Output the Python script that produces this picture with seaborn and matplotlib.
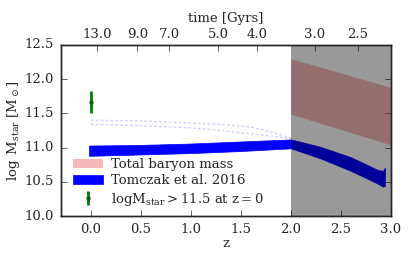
import numpy as np
import pandas as pd
import matplotlib
matplotlib.use("Agg")
import matplotlib.pyplot as plt
import seaborn as sns

# Tomczak et al. 2016 band (z, lower, upper)
tom_z = [-0.02, 0.5, 1.0, 1.5, 2.0, 2.3, 2.6, 2.86, 2.92, 2.94]
tom_lo = [10.88, 10.90, 10.92, 10.95, 10.99, 10.84, 10.66, 10.48, 10.43, 10.44]
tom_hi = [11.03, 11.04, 11.06, 11.09, 11.12, 11.01, 10.86, 10.68, 10.66, 10.71]

# total baryon mass band
bar_z = [2.0, 3.0]
bar_lo = [11.49, 11.04]
bar_hi = [12.30, 11.88]

# two faint model tracks
trk_z = [0.0, 0.5, 1.0, 1.3, 1.6, 1.8, 2.0]
trk_a = [11.40, 11.39, 11.36, 11.34, 11.30, 11.23, 11.14]
trk_b = [11.34, 11.32, 11.29, 11.25, 11.20, 11.17, 11.13]

# massive galaxies today
pt_z = [0.0]
pt_m = [11.67]
pt_err = [0.16]

# cosmic time axis
time_z = [0.06, 0.465, 0.78, 1.27, 1.66, 2.24, 2.67]
time_lab = ["13.0", "9.0", "7.0", "5.0", "4.0", "3.0", "2.5"]

plt.style.use("classic")
sns.set_style("ticks", {"xtick.direction": "in", "ytick.direction": "in"})
plt.rcParams["font.family"] = ["DejaVu Serif"]
plt.rcParams["mathtext.fontset"] = "dejavuserif"
plt.rcParams["font.size"] = 9.5

fig = plt.figure(figsize=(4.15, 2.6), dpi=100)
ax = fig.add_axes([0.147, 0.169, 0.795, 0.658])

ax.fill_between(bar_z, bar_lo, bar_hi, color="#f08080", alpha=0.55, lw=0,
                label="Total baryon mass", zorder=2)
ax.fill_between(tom_z, tom_lo, tom_hi, color="blue", lw=0.5, edgecolor="blue",
                label="Tomczak et al. 2016", zorder=2)

tracks = pd.DataFrame({"z": trk_z * 2, "m": trk_a + trk_b,
                       "run": ["a"] * len(trk_z) + ["b"] * len(trk_z)})
sns.lineplot(data=tracks, x="z", y="m", units="run", estimator=None, ax=ax,
             color="#d0d0ff", lw=1, legend=False, zorder=1)
for ln in ax.lines:
    ln.set_dashes((2, 1.5))

ax.errorbar(pt_z, pt_m, yerr=pt_err, fmt="o", color="green", elinewidth=2,
            ms=2.5, mfc="#115511", mec="#115511", capsize=0,
            label=r"$\mathrm{logM_{star} > 11.5\ at\ z = 0}$", zorder=3)

ax.axvspan(2.0, 3.0, color="black", alpha=0.4, lw=0, zorder=4)

ax.set_xlim(-0.3, 3.0)
ax.set_ylim(10.0, 12.5)
ax.set_xticks([0.0, 0.5, 1.0, 1.5, 2.0, 2.5, 3.0])
ax.set_yticks([10.0, 10.5, 11.0, 11.5, 12.0, 12.5])
ax.set_xticklabels(["0.0", "0.5", "1.0", "1.5", "2.0", "2.5", "3.0"])
ax.set_yticklabels(["10.0", "10.5", "11.0", "11.5", "12.0", "12.5"])
ax.set_xlabel("z", labelpad=1)
ax.set_ylabel(r"$\log\ \mathrm{M_{star}}\ [\mathrm{M_\odot}]$", labelpad=2)
ax.tick_params(direction="in", top=False, right=True, length=4, pad=5)

ax2 = ax.twiny()
ax2.set_xlim(ax.get_xlim())
ax2.set_xticks(time_z)
ax2.set_xticklabels(time_lab)
ax2.set_xlabel("time [Gyrs]", labelpad=4)
ax2.tick_params(direction="in", length=4, pad=3)

ax.legend(loc="lower left", bbox_to_anchor=(0.0, -0.02), frameon=False,
          handlelength=2.3, handletextpad=0.6, labelspacing=0.25,
          fontsize=9.5, numpoints=1)

fig.savefig("out.png", dpi=100)
